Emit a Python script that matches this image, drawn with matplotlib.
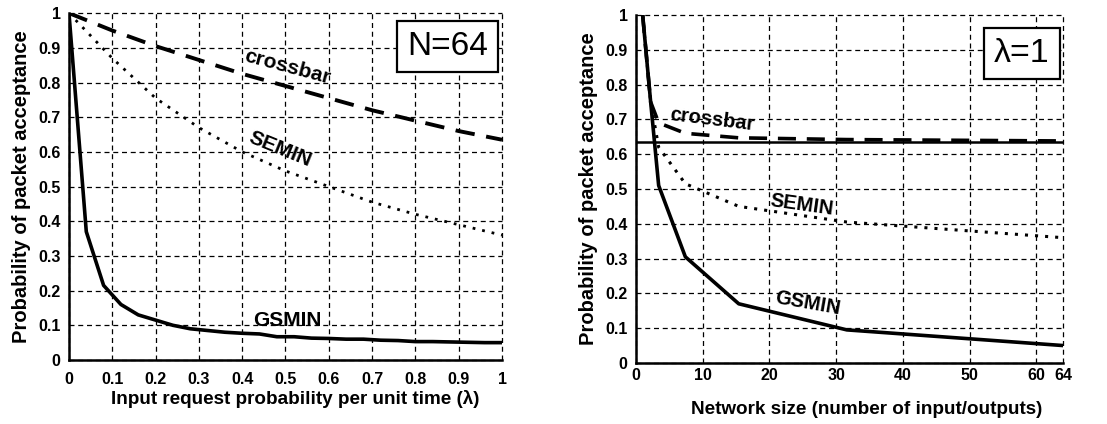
import matplotlib
matplotlib.use("Agg")
import matplotlib.pyplot as plt

plt.rcParams["font.family"] = ["Liberation Sans", "DejaVu Sans"]

# left panel: N=64, acceptance vs lambda
lam = [0, 0.04, 0.08, 0.12, 0.16, 0.2, 0.24, 0.28, 0.32, 0.36, 0.4, 0.44, 0.48, 0.52,
       0.56, 0.6, 0.64, 0.68, 0.72, 0.76, 0.8, 0.84, 0.88, 0.92, 0.96, 1.0]
gsmin_l = [1.0, 0.37, 0.215, 0.16, 0.13, 0.115, 0.1, 0.09, 0.085, 0.08, 0.077, 0.075, 0.067, 0.067,
           0.063, 0.062, 0.06, 0.06, 0.057, 0.056, 0.053, 0.053, 0.052, 0.051, 0.05, 0.05]
lam_c = [0, 0.1, 0.2, 0.3, 0.4, 0.5, 0.6, 0.7, 0.8, 0.9, 1.0]
cross_l = [1.0, 0.95, 0.905, 0.865, 0.825, 0.79, 0.755, 0.72, 0.69, 0.66, 0.635]
semin_l = [1.0, 0.87, 0.755, 0.67, 0.6, 0.545, 0.5, 0.455, 0.42, 0.39, 0.36]

# right panel: lambda=1, acceptance vs network size (positions)
size = [1, 2.2, 3.4, 7.4, 15.4, 31.6, 64]
gsmin_r = [1.0, 0.75, 0.51, 0.305, 0.17, 0.095, 0.05]
cross_r = [1.0, 0.75, 0.69, 0.66, 0.647, 0.642, 0.638]
semin_r = [1.0, 0.75, 0.62, 0.515, 0.45, 0.405, 0.36]
cross_limit = 0.635

yticks = [0, 0.1, 0.2, 0.3, 0.4, 0.5, 0.6, 0.7, 0.8, 0.9, 1]
ytick_lbl = ["0", "0.1", "0.2", "0.3", "0.4", "0.5", "0.6", "0.7", "0.8", "0.9", "1"]
xticks_l = [0, 0.1, 0.2, 0.3, 0.4, 0.5, 0.6, 0.7, 0.8, 0.9, 1]
xticks_r = [0, 10, 20, 30, 40, 50, 60, 64]

fig = plt.figure(figsize=(11.07, 4.24), dpi=100)
axL = fig.add_axes([0.0623, 0.151, 0.3912, 0.818])
axR = fig.add_axes([0.5745, 0.144, 0.3858, 0.8206])


def style(ax, xt, xlim, xpad):
    ax.set_xlim(*xlim)
    ax.set_ylim(0, 1)
    ax.set_xticks(xt)
    ax.set_xticklabels([("%g" % v) for v in xt])
    ax.set_yticks(yticks)
    ax.set_yticklabels(ytick_lbl)
    ax.tick_params(length=0, labelsize=11.5)
    ax.tick_params(axis="x", pad=xpad)
    ax.tick_params(axis="y", pad=6)
    for lb in ax.get_xticklabels() + ax.get_yticklabels():
        lb.set_fontweight("bold")
    ax.grid(True, color="black", linestyle=(0, (4, 3)), linewidth=0.9)
    for gl in ax.get_xgridlines() + ax.get_ygridlines():
        gl.set_clip_on(False)
    for s in ("top", "right"):
        ax.spines[s].set_visible(False)
    for s in ("left", "bottom"):
        ax.spines[s].set_linewidth(1.8)
        ax.spines[s].set_zorder(5)
    ax.set_ylabel("Probability of packet acceptance", fontsize=14.5, fontweight="bold", labelpad=5)


style(axL, xticks_l, (0, 1), 9)
axL.plot(lam, gsmin_l, color="black", lw=2.6, solid_joinstyle="round")
axL.plot(lam_c, cross_l, color="black", lw=2.8, dashes=(5, 3))
axL.plot(lam_c, semin_l, color="black", lw=2.0, dashes=(1, 2.5))
axL.text(0.503, 0.845, "crossbar", fontsize=15, fontweight="bold", rotation=-15, ha="center", va="center")
axL.text(0.487, 0.608, "SEMIN", fontsize=15, fontweight="bold", rotation=-22, ha="center", va="center")
axL.text(0.505, 0.115, "GSMIN", fontsize=15, fontweight="bold", ha="center", va="center")
axL.text(0.967, 0.905, "N=64", fontsize=24, ha="right", va="center", transform=axL.transAxes,
         bbox=dict(boxstyle="square,pad=0.3", fc="white", ec="black", lw=1.6))
axL.set_xlabel("Input request probability per unit time (\u03bb)", fontsize=13.6, fontweight="bold")
axL.xaxis.set_label_coords(0.523, -0.088)

style(axR, xticks_r, (0, 64), 4)
axR.axhline(cross_limit, color="black", lw=1.8)
axR.plot(size, gsmin_r, color="black", lw=2.6, solid_joinstyle="round")
axR.plot(size, cross_r, color="black", lw=2.6, dashes=(5, 3))
axR.plot(size, semin_r, color="black", lw=2.2, dashes=(1, 2.3))
axR.text(11.4, 0.698, "crossbar", fontsize=14.5, fontweight="bold", rotation=-7, ha="center", va="center")
axR.text(24.9, 0.454, "SEMIN", fontsize=14.5, fontweight="bold", rotation=-8, ha="center", va="center")
axR.text(25.8, 0.172, "GSMIN", fontsize=14.5, fontweight="bold", rotation=-10, ha="center", va="center")
axR.text(0.968, 0.89, "\u03bb=1", fontsize=24.5, ha="right", va="center", transform=axR.transAxes,
         bbox=dict(boxstyle="square,pad=0.3", fc="white", ec="black", lw=1.6))
axR.set_xlabel("Network size (number of input/outputs)", fontsize=13.6, fontweight="bold")
axR.xaxis.set_label_coords(0.54, -0.11)

fig.savefig("out.png", dpi=100)
